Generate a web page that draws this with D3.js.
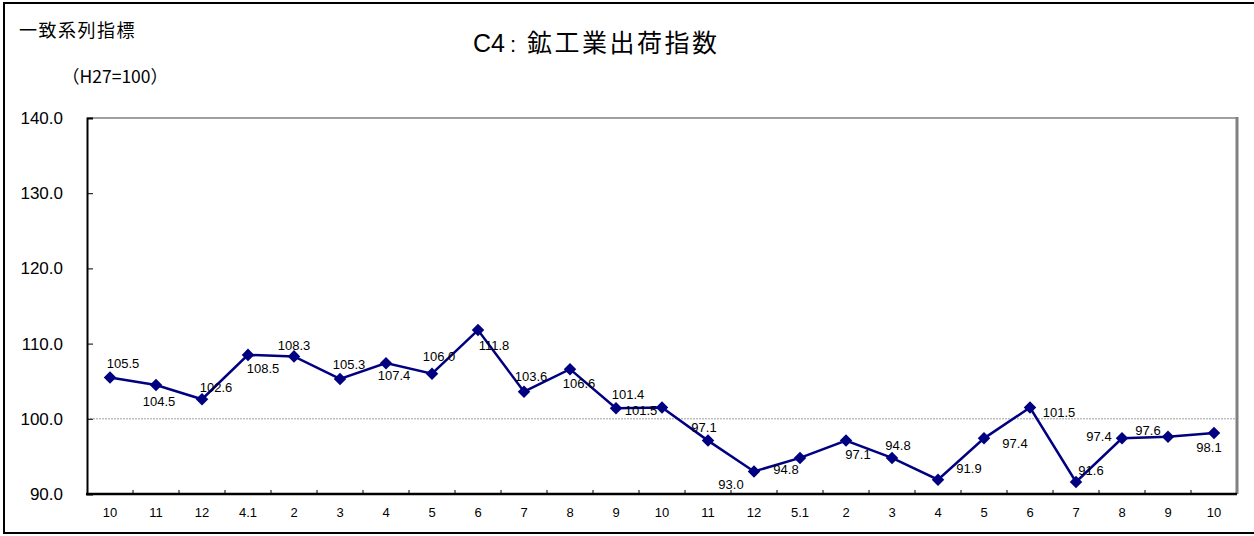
<!DOCTYPE html>
<html><head><meta charset="utf-8">
<script src="https://cdn.jsdelivr.net/npm/d3@7"></script>
<style>
html,body{margin:0;padding:0;background:#fff;}
svg{display:block;}
text{font-family:"Noto Sans CJK JP","DejaVu Sans",sans-serif;fill:#000;}
</style></head>
<body>
<svg id="chart" width="1254" height="536"></svg>
<script>
const categories = ["10","11","12","4.1","2","3","4","5","6","7","8","9","10","11","12","5.1","2","3","4","5","6","7","8","9","10"];
const values = [105.5,104.5,102.6,108.5,108.3,105.3,107.4,106.0,111.8,103.6,106.6,101.4,101.5,97.1,93.0,94.8,97.1,94.8,91.9,97.4,101.5,91.6,97.4,97.6,98.1];
const yTicks = [90,100,110,120,130,140];
// label placement offsets (layout, not data)
const labelOffsets = [[13,-14],[3,17],[14,-12],[15,14],[0,-11],[9,-14],[8,12],[7,-17],[16,15],[7,-15],[9,14],[12,-14],[-21,3],[-4,-13],[-23,13],[-14,12],[12,14],[6,-12],[31,-11],[31,5],[29,5],[15,-11],[-23,-2],[-20,-6],[-5,14]];

const svg = d3.select("#chart");
const L = 87, R = 1237, T = 118, B = 494;

// outer frame
svg.append("rect").attr("x",4).attr("y",3).attr("width",1260).attr("height",530)
  .attr("fill","none").attr("stroke","#000").attr("stroke-width",2);

const x = d3.scaleBand().domain(d3.range(categories.length)).range([L,R]);
const y = d3.scaleLinear().domain([90,140]).range([B,T]);

// plot border top/right
svg.append("line").attr("x1",L).attr("x2",R).attr("y1",T).attr("y2",T).attr("stroke","#808080").attr("stroke-width",1.5);
svg.append("line").attr("x1",R).attr("x2",R).attr("y1",T-1).attr("y2",B).attr("stroke","#808080").attr("stroke-width",3);

// reference line at 100
svg.append("line").attr("x1",L).attr("x2",R-2).attr("y1",y(100)).attr("y2",y(100))
  .attr("stroke","#888").attr("stroke-width",0.8).attr("stroke-dasharray","2,1");

// y axis
const yAxis = d3.axisLeft(y).tickValues(yTicks).tickSize(-6).tickPadding(24).tickFormat(d3.format(".1f"));
const gy = svg.append("g").attr("transform",`translate(${L},0)`).call(yAxis);
gy.select(".domain").attr("stroke","#000").attr("stroke-width",2);
gy.selectAll(".tick line").attr("stroke","#000");
gy.selectAll(".tick text").style("font-family","'Liberation Sans',Arial,sans-serif").style("font-size","17px");

// x axis
const gx = svg.append("g").attr("transform",`translate(0,${B})`);
gx.append("line").attr("x1",L-1).attr("x2",R).attr("y1",0).attr("y2",0).attr("stroke","#000").attr("stroke-width",2.5);
gx.selectAll("line.tk").data(d3.range(1,categories.length)).enter().append("line").attr("class","tk")
  .attr("x1",d=>x(d)).attr("x2",d=>x(d)).attr("y1",0).attr("y2",-4).attr("stroke","#000");
gx.selectAll("text").data(categories).enter().append("text")
  .attr("x",(d,i)=>x(i)+x.bandwidth()/2).attr("y",23).attr("text-anchor","middle")
  .style("font-family","'Liberation Sans',Arial,sans-serif").style("font-size","13px").text(d=>d);

// line
const cx = i => x(i)+x.bandwidth()/2;
svg.append("path").datum(values)
  .attr("d", d3.line().x((d,i)=>cx(i)).y(d=>y(d)))
  .attr("fill","none").attr("stroke","#000080").attr("stroke-width",2.5);

// markers
svg.selectAll("path.mk").data(values).enter().append("path").attr("class","mk")
  .attr("d", d3.symbol().type(d3.symbolDiamond2).size(100))
  .attr("transform",(d,i)=>`translate(${cx(i)},${y(d)})`)
  .attr("fill","#000080");

// labels
svg.selectAll("text.lb").data(values).enter().append("text").attr("class","lb")
  .attr("x",(d,i)=>cx(i)+labelOffsets[i][0]).attr("y",(d,i)=>y(d)+labelOffsets[i][1])
  .attr("text-anchor","middle").attr("dominant-baseline","central")
  .style("font-family","'Liberation Sans',Arial,sans-serif").style("font-size","13px")
  .text(d=>d3.format(".1f")(d));

// titles
svg.append("text").attr("x",19).attr("y",37).style("font-size","18px").style("letter-spacing","1.5px").text("一致系列指標");
svg.append("text").attr("x",62).attr("y",83).style("font-size","17.5px").text("（H27=100）");
const t = svg.append("text").attr("y",52);
t.append("tspan").attr("x",473).style("font-family","'Liberation Sans',Arial,sans-serif").style("font-size","25px").text("C4");
t.append("tspan").attr("x",510).style("font-family","'Liberation Sans',Arial,sans-serif").style("font-size","22px").text(":");
t.append("tspan").attr("x",527).style("font-size","25px").style("letter-spacing","2.5px").text("鉱工業出荷指数");
</script>
</body></html>
